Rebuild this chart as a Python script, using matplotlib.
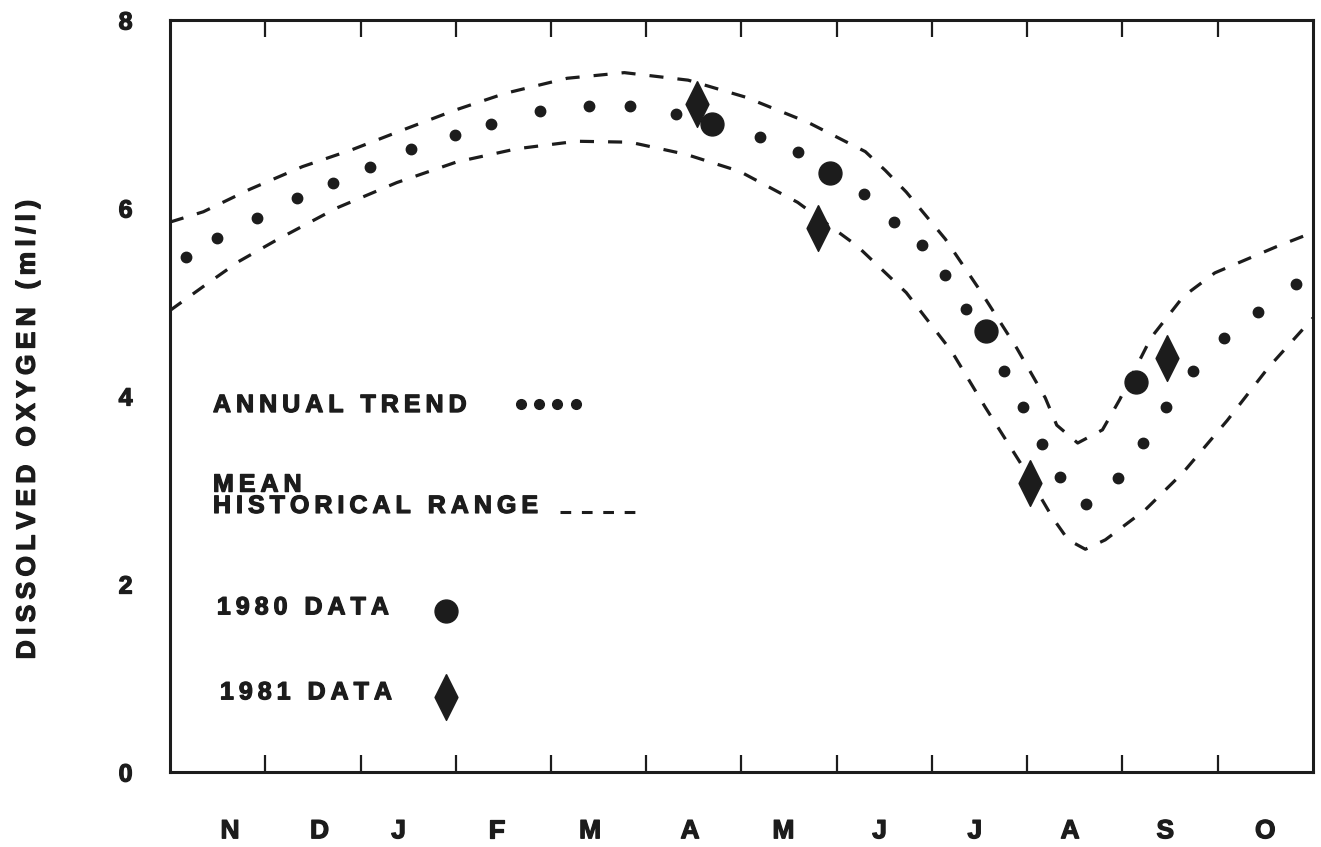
import matplotlib
matplotlib.use('Agg')
import matplotlib.pyplot as plt
import matplotlib.patheffects as pe

plt.rcParams['font.family'] = ['Liberation Sans', 'DejaVu Sans']
plt.rcParams['font.weight'] = 'bold'

ink = '#1c1c1c'
heavy = [pe.withStroke(linewidth=0.9, foreground=ink)]

months = ['N', 'D', 'J', 'F', 'M', 'A', 'M', 'J', 'J', 'A', 'S', 'O']
month_pos = [0.63, 1.57, 2.40, 3.43, 4.41, 5.46, 6.44, 7.45, 8.45, 9.45, 10.45, 11.50]

# annual trend (small dots), x in months from start of November
trend_x = [0.17, 0.49, 0.91, 1.33, 1.71, 2.10, 2.53, 2.99, 3.37, 3.88, 4.40, 4.83,
           5.31, 6.19, 6.59, 7.29, 7.60, 7.90, 8.14, 8.36, 8.76, 8.96, 9.16, 9.34,
           9.62, 9.95, 10.22, 10.46, 10.74, 11.07, 11.42, 11.82]
trend_y = [5.48, 5.68, 5.89, 6.11, 6.27, 6.44, 6.63, 6.78, 6.89, 7.03, 7.09, 7.09,
           7.00, 6.76, 6.60, 6.15, 5.85, 5.61, 5.29, 4.93, 4.27, 3.88, 3.49, 3.14,
           2.85, 3.13, 3.50, 3.88, 4.27, 4.62, 4.89, 5.19]

# mean historical range, upper and lower bounds
upper_x = [0.0, 0.35, 0.84, 1.39, 1.91, 2.47, 2.99, 3.52, 4.17, 4.77, 5.44, 6.04,
           6.70, 7.30, 7.51, 7.73, 8.14, 8.50, 8.89, 9.19, 9.31, 9.53, 9.79, 9.97,
           10.30, 10.64, 10.97, 11.62, 12.0]
upper_y = [5.85, 5.96, 6.20, 6.44, 6.62, 6.84, 7.04, 7.22, 7.38, 7.44, 7.36, 7.18,
           6.91, 6.60, 6.40, 6.17, 5.67, 5.13, 4.51, 3.98, 3.69, 3.50, 3.64, 3.96,
           4.62, 5.06, 5.31, 5.59, 5.74]
lower_x = [0.0, 0.37, 0.72, 1.12, 1.75, 2.38, 3.01, 3.64, 4.27, 4.83, 5.42, 5.98,
           6.59, 7.21, 7.73, 8.21, 8.56, 8.94, 9.27, 9.43, 9.61, 9.82, 10.24, 10.64,
           11.10, 11.53, 12.0]
lower_y = [4.91, 5.18, 5.43, 5.66, 6.00, 6.27, 6.49, 6.63, 6.71, 6.70, 6.57, 6.39,
           6.06, 5.60, 5.10, 4.47, 3.88, 3.27, 2.70, 2.47, 2.37, 2.47, 2.79, 3.19,
           3.74, 4.30, 4.83]

data80_x = [5.69, 6.93, 8.57, 10.14]
data80_y = [6.89, 6.37, 4.69, 4.15]

data81_x = [5.53, 6.80, 9.03, 10.47]
data81_y = [7.11, 5.79, 3.07, 4.40]

diamond = [(0, 1), (0.5, 0), (0, -1), (-0.5, 0), (0, 1)]


def spaced(s):
    # old lettering has wide tracking: put a thin space between letters
    return '\u2009'.join(s)


fig = plt.figure(figsize=(13.21, 8.47), dpi=100)
ax = fig.add_axes([0.1287, 0.0885, 0.8652, 0.8879])

ax.plot(upper_x, upper_y, color=ink, lw=2.3, dashes=(4.4, 4.4))
ax.plot(lower_x, lower_y, color=ink, lw=2.3, dashes=(4.4, 4.4))
ax.plot(trend_x, trend_y, 'o', color=ink, ms=7.5, ls='none')
ax.plot(data80_x, data80_y, 'o', color=ink, ms=16.5, ls='none')
ax.plot(data81_x, data81_y, marker=diamond, color=ink, ms=33, ls='none')

ax.set_xlim(0, 12)
ax.set_ylim(0, 8)

ax.set_xticks(range(1, 12))
ax.set_xticks(month_pos, minor=True)
ax.set_xticklabels([])
ax.set_xticklabels(months, minor=True, fontsize=19, fontweight='bold')
ax.tick_params(axis='x', which='major', direction='in', top=True, bottom=True,
               length=12, width=1.6, color=ink)
ax.tick_params(axis='x', which='minor', length=0, pad=34, labelcolor=ink)

ax.set_yticks([0, 2, 4, 6, 8])
ax.set_yticklabels(['0', '2', '4', '6', '8'], fontsize=18, fontweight='bold')
ax.tick_params(axis='y', length=0, pad=27, labelcolor=ink)

for lab in ax.get_xticklabels(minor=True) + ax.get_yticklabels():
    lab.set_path_effects(heavy)

for s in ax.spines.values():
    s.set_linewidth(2.2)
    s.set_color(ink)

ax.set_ylabel(spaced('DISSOLVED OXYGEN (ml/l)'), fontsize=19, fontweight='bold',
              color=ink, path_effects=heavy)
ax.yaxis.set_label_coords(-0.114, 0.455)

# legend drawn inside the axes
tkw = dict(transform=ax.transAxes, fontsize=18, fontweight='bold', color=ink,
           va='center', ha='left', path_effects=heavy)
ax.text(0.0376, 0.488, spaced('ANNUAL TREND'), **tkw)
ax.plot([0.307, 0.323, 0.339, 0.355], [0.489] * 4, 'o', color=ink, ms=7,
        transform=ax.transAxes, clip_on=False)
ax.text(0.0376, 0.368, spaced('MEAN') + '\n' + spaced('HISTORICAL RANGE'),
        linespacing=0.86, **tkw)
ax.plot([0.341, 0.414], [0.346, 0.346], color=ink, lw=2.2, dashes=(3.5, 3.5),
        transform=ax.transAxes)
ax.text(0.041, 0.219, spaced('1980 DATA'), **tkw)
ax.plot([0.2415], [0.214], 'o', color=ink, ms=16.5, transform=ax.transAxes)
ax.text(0.0437, 0.106, spaced('1981 DATA'), **tkw)
ax.plot([0.2415], [0.0997], marker=diamond, color=ink, ms=33, transform=ax.transAxes)

fig.savefig('out.png', dpi=100, facecolor='white')
